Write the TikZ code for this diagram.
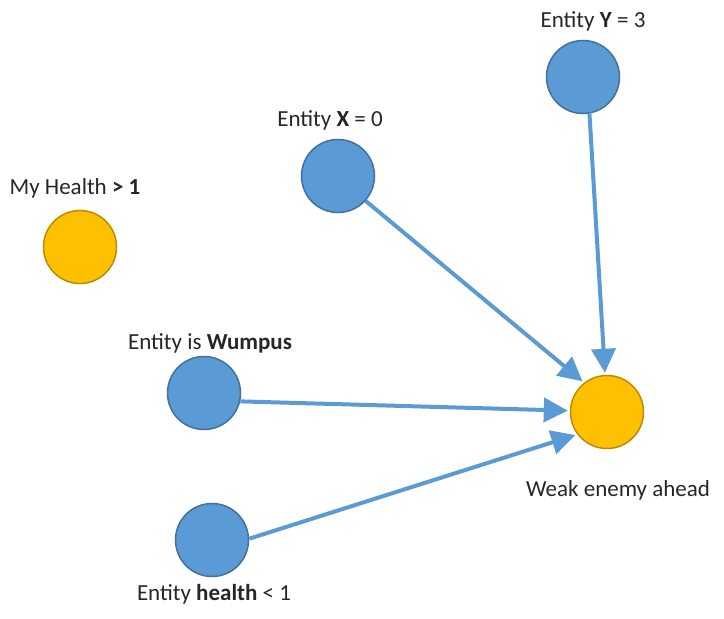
\documentclass[tikz,border=0pt]{standalone}
\usepackage{fontspec}
\setmainfont{Carlito}
\usetikzlibrary{arrows.meta}

\definecolor{entblue}{HTML}{5B9BD5}
\definecolor{entline}{HTML}{41719C}
\definecolor{goalfill}{HTML}{FFC000}
\definecolor{goalline}{HTML}{BC8C00}

\tikzset{
  entity/.style={circle,fill=entblue,draw=entline,line width=1.5pt,minimum size=73pt,inner sep=0pt},
  goal/.style={circle,fill=goalfill,draw=goalline,line width=1.5pt,minimum size=73pt,inner sep=0pt},
  lbl/.style={font=\fontsize{23}{26}\selectfont,inner sep=0pt,text=black!85},
  link/.style={draw=entblue,line width=4pt,-{Triangle[width=24pt,length=24pt]},shorten >=2pt}
}

\begin{document}
\begin{tikzpicture}[x=1pt,y=-1pt]
\useasboundingbox (0,0) rectangle (724,619);

% nodes
\node[entity] (ey) at (583,77) {};
\node[entity] (ex) at (338,176) {};
\node[goal] (health) at (80,247) {};
\node[entity] (wumpus) at (204,393) {};
\node[entity] (ehealth) at (212,540) {};
\node[goal] (weak) at (607,412) {};

% labels
\node[lbl] (ly) at (593,21) {Entity \textbf{Y} = 3};
\node[lbl] (lx) at (330,120) {Entity \textbf{X} = 0};
\node[lbl] (lhealth) at (75,188) {My Health \textbf{> 1}};
\node[lbl] (lwumpus) at (210,343) {Entity is \textbf{Wumpus}};
\node[lbl] (lehealth) at (214,594) {Entity \textbf{health} < 1};
\node[lbl] (lweak) at (618,490) {Weak enemy ahead};

% links
\draw[link] (ey.-80) -- (weak.93);
\draw[link] (ex.-42) -- (weak.128);
\draw[link] (wumpus.-13) -- (weak.178);
\draw[link] (ehealth.2) -- (weak.217);
\end{tikzpicture}
\end{document}
